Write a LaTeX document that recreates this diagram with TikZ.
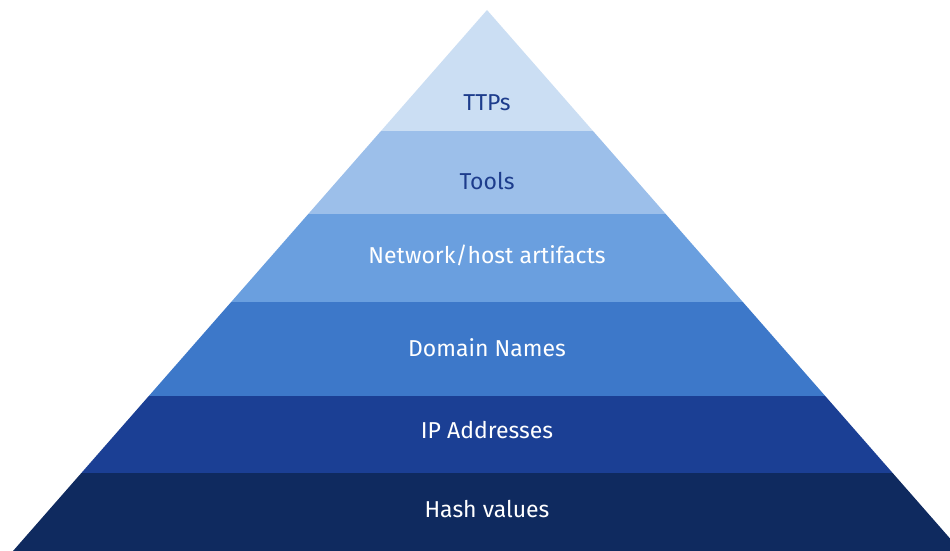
\documentclass[tikz,border=0pt]{standalone}
\usepackage{fontspec}
\setmainfont{Fira Sans}
\definecolor{cA}{HTML}{CBDEF3}
\definecolor{cB}{HTML}{9CBFEA}
\definecolor{cC}{HTML}{6A9FDF}
\definecolor{cD}{HTML}{3D78C9}
\definecolor{cE}{HTML}{1B3F94}
\definecolor{cF}{HTML}{0F2A5F}
\definecolor{darktext}{HTML}{1D3C8C}
\begin{document}
\begin{tikzpicture}[x=1pt,y=-1pt,
  lbl/.style={anchor=base,inner sep=0pt,font=\fontsize{23}{27}\selectfont},
  lbldark/.style={lbl,text=darktext},
  lbllight/.style={lbl,text=white}]
\useasboundingbox (0,0) rectangle (950,551);
\begin{scope}
\clip (487,10) -- (961,551) -- (13,551) -- cycle;
\fill[cA] (0,0) rectangle (970,131);
\fill[cB] (0,131) rectangle (970,214);
\fill[cC] (0,214) rectangle (970,302);
\fill[cD] (0,302) rectangle (970,396);
\fill[cE] (0,396) rectangle (970,473);
\fill[cF] (0,473) rectangle (970,560);
\end{scope}
\node[lbldark] (ttps) at (487,110) {TTPs};
\node[lbldark] (tools) at (487,189) {Tools};
\node[lbllight] (net) at (487,263) {Network/host artifacts};
\node[lbllight] (dom) at (487,356) {Domain Names};
\node[lbllight] (ip) at (487,438) {IP Addresses};
\node[lbllight] (hash) at (487,517) {Hash values};
\end{tikzpicture}
\end{document}
